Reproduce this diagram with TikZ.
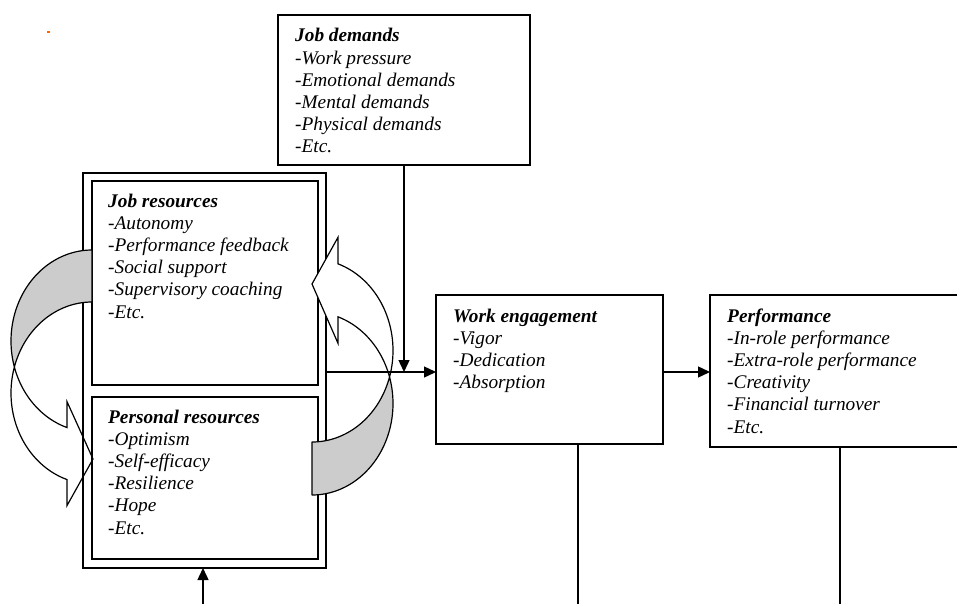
\documentclass[tikz,border=0pt]{standalone}
\usepackage{fontspec}
\setmainfont{Liberation Serif}
\usetikzlibrary{arrows.meta}
\tikzset{
  boxline/.style={draw=black, line width=1.2pt, inner sep=0pt, outer sep=0pt, anchor=north west},
  outerline/.style={draw=black, line width=1.7pt, inner sep=0pt, outer sep=0pt, anchor=north west},
  item/.style={anchor=base west, inner sep=0pt, font=\itshape\fontsize{19.3}{22.2}\selectfont},
  ttl/.style={anchor=base west, inner sep=0pt, font=\bfseries\itshape\fontsize{19.3}{22.2}\selectfont},
  arr/.style={line width=1.4pt, -{Triangle[length=12pt,width=11pt]}},
  plain/.style={line width=1.4pt},
  backpart/.style={fill=black!20, draw=black, line width=1.2pt, line join=round},
  frontpart/.style={fill=white, draw=black, line width=1.2pt, line join=miter},
}
\begin{document}
\begin{tikzpicture}[x=1pt,y=-1pt]
\useasboundingbox (0,0) rectangle (957,604);
\clip (0,0) rectangle (957,604);
\fill[white] (0,0) rectangle (957,604);
\fill[orange!80!red] (47,31) rectangle (50,33.5);

% left curved arrow, front (white) part, drawn behind the boxes
\filldraw[frontpart] plot[domain=196.6:107.98, samples=60, variable=\t] ({92+81*cos(\t)},{393+91*sin(\t)})
  -- (67,505.6) -- (93,459) -- (67,401.6)
  -- plot[domain=107.98:163.4, samples=40, variable=\t] ({92+81*cos(\t)},{341+91*sin(\t)}) -- cycle;

% boxes
\node[boxline, minimum width=252pt, minimum height=150pt] (jd) at (278,15) {};
\node[outerline, minimum width=243pt, minimum height=395pt] (outer) at (83,173) {};
\node[boxline, minimum width=226pt, minimum height=204pt] (jr) at (92,181) {};
\node[boxline, minimum width=226pt, minimum height=162pt] (pr) at (92,397) {};
\node[boxline, minimum width=227pt, minimum height=149pt] (we) at (436,295) {};
\node[boxline, minimum width=260pt, minimum height=152pt] (perf) at (710,295) {};

% texts
\node[ttl] (jd-t) at (295,42) {Job demands};
\foreach \s [count=\i] in {-Work pressure,-Emotional demands,-Mental demands,-Physical demands,-Etc.}
  \node[item] (jd-\i) at (295,{42+22.2*\i}) {\s};
\node[ttl] (jr-t) at (108,207) {Job resources};
\foreach \s [count=\i] in {-Autonomy,-Performance feedback,-Social support,-Supervisory coaching,-Etc.}
  \node[item] (jr-\i) at (108,{207+22.2*\i}) {\s};
\node[ttl] (pr-t) at (108,423) {Personal resources};
\foreach \s [count=\i] in {-Optimism,-Self-efficacy,-Resilience,-Hope,-Etc.}
  \node[item] (pr-\i) at (108,{423+22.2*\i}) {\s};
\node[ttl] (we-t) at (453,322) {Work engagement};
\foreach \s [count=\i] in {-Vigor,-Dedication,-Absorption}
  \node[item] (we-\i) at (453,{322+22.2*\i}) {\s};
\node[ttl] (perf-t) at (727,322) {Performance};
\foreach \s [count=\i] in {-In-role performance,-Extra-role performance,-Creativity,-Financial turnover,-Etc.}
  \node[item] (perf-\i) at (727,{322+22.2*\i}) {\s};

% left curved arrow, back (grey) part
\filldraw[backpart] plot[domain=270:163.4, samples=60, variable=\t] ({92+81*cos(\t)},{341+91*sin(\t)})
  -- plot[domain=196.6:270, samples=60, variable=\t] ({92+81*cos(\t)},{393+91*sin(\t)}) -- cycle;

% right curved arrow, back (grey) part
\filldraw[backpart] plot[domain=90:16.83, samples=60, variable=\t] ({312+81*cos(\t)},{350.5+91.5*sin(\t)})
  -- plot[domain=-16.83:90, samples=60, variable=\t] ({312+81*cos(\t)},{403.5+91.5*sin(\t)}) -- cycle;
% right curved arrow, front (white) part
\filldraw[frontpart] plot[domain=16.83:-71.28, samples=60, variable=\t] ({312+81*cos(\t)},{350.5+91.5*sin(\t)})
  -- (338,237.3) -- (312,284) -- (338,343.3)
  -- plot[domain=-71.28:-16.83, samples=40, variable=\t] ({312+81*cos(\t)},{403.5+91.5*sin(\t)}) -- cycle;

% connectors
\coordinate (j) at (404,372);
\coordinate (b1) at (203,604);
\coordinate (b2) at (578,604);
\coordinate (b3) at (840,604);
\draw[arr] (jd.south) -- (j);
\draw[arr] (outer.east |- j) -- (we.west |- j);
\draw[arr] (we.east |- j) -- (perf.west |- j);
\draw[arr] (b1) -- (b1 |- outer.south);
\draw[plain] (b2 |- we.south) -- (b2);
\draw[plain] (b3 |- perf.south) -- (b3);
\end{tikzpicture}
\end{document}
